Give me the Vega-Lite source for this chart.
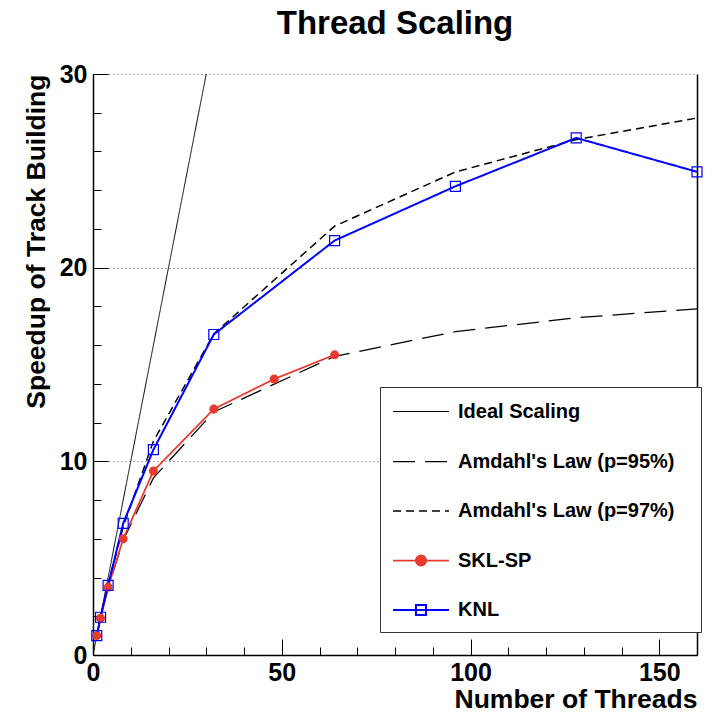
{
  "$schema": "https://vega.github.io/schema/vega-lite/v6.json",
  "width": 604,
  "height": 581,
  "autosize": "none",
  "padding": {"left": 93, "top": 74, "right": 23, "bottom": 59},
  "background": "white",
  "config": {"font": "Liberation Sans", "view": {"stroke": null}, "axis": {"labelOverlap": false, "labelFlush": false, "labelBound": false}},
  "title": {"text": "Thread Scaling", "fontSize": 33, "fontWeight": "bold", "font": "Liberation Sans", "anchor": "middle", "frame": "group", "baseline": "alphabetic", "offset": -5, "color": "black"},
  "data": {"values": [
    {"series": "Ideal Scaling", "threads": 0, "speedup": 0},
    {"series": "Ideal Scaling", "threads": 30, "speedup": 30},
    {"series": "Amdahl's Law (p=95%)", "threads": 1, "speedup": 1},
    {"series": "Amdahl's Law (p=95%)", "threads": 2, "speedup": 1.905},
    {"series": "Amdahl's Law (p=95%)", "threads": 4, "speedup": 3.478},
    {"series": "Amdahl's Law (p=95%)", "threads": 8, "speedup": 5.926},
    {"series": "Amdahl's Law (p=95%)", "threads": 16, "speedup": 9.143},
    {"series": "Amdahl's Law (p=95%)", "threads": 32, "speedup": 12.549},
    {"series": "Amdahl's Law (p=95%)", "threads": 64, "speedup": 15.421},
    {"series": "Amdahl's Law (p=95%)", "threads": 96, "speedup": 16.696},
    {"series": "Amdahl's Law (p=95%)", "threads": 128, "speedup": 17.415},
    {"series": "Amdahl's Law (p=95%)", "threads": 160, "speedup": 17.877},
    {"series": "Amdahl's Law (p=97%)", "threads": 1, "speedup": 1},
    {"series": "Amdahl's Law (p=97%)", "threads": 2, "speedup": 1.942},
    {"series": "Amdahl's Law (p=97%)", "threads": 4, "speedup": 3.67},
    {"series": "Amdahl's Law (p=97%)", "threads": 8, "speedup": 6.612},
    {"series": "Amdahl's Law (p=97%)", "threads": 16, "speedup": 11.034},
    {"series": "Amdahl's Law (p=97%)", "threads": 32, "speedup": 16.58},
    {"series": "Amdahl's Law (p=97%)", "threads": 64, "speedup": 22.145},
    {"series": "Amdahl's Law (p=97%)", "threads": 96, "speedup": 24.942},
    {"series": "Amdahl's Law (p=97%)", "threads": 128, "speedup": 26.613},
    {"series": "Amdahl's Law (p=97%)", "threads": 160, "speedup": 27.726},
    {"series": "SKL-SP", "threads": 1, "speedup": 1.0},
    {"series": "SKL-SP", "threads": 2, "speedup": 1.9},
    {"series": "SKL-SP", "threads": 4, "speedup": 3.5},
    {"series": "SKL-SP", "threads": 8, "speedup": 6.0},
    {"series": "SKL-SP", "threads": 16, "speedup": 9.5},
    {"series": "SKL-SP", "threads": 32, "speedup": 12.7},
    {"series": "SKL-SP", "threads": 48, "speedup": 14.25},
    {"series": "SKL-SP", "threads": 64, "speedup": 15.5},
    {"series": "KNL", "threads": 1, "speedup": 1.0},
    {"series": "KNL", "threads": 2, "speedup": 1.95},
    {"series": "KNL", "threads": 4, "speedup": 3.6},
    {"series": "KNL", "threads": 8, "speedup": 6.8},
    {"series": "KNL", "threads": 16, "speedup": 10.6},
    {"series": "KNL", "threads": 32, "speedup": 16.55},
    {"series": "KNL", "threads": 64, "speedup": 21.4},
    {"series": "KNL", "threads": 96, "speedup": 24.2},
    {"series": "KNL", "threads": 128, "speedup": 26.7},
    {"series": "KNL", "threads": 160, "speedup": 24.95}
  ]},
  "layer": [
    {
      "mark": {"type": "line", "clip": true},
      "encoding": {
        "x": {"field": "threads", "type": "quantitative",
          "scale": {"domain": [0, 160], "nice": false},
          "axis": {
            "values": [0, 10, 20, 30, 40, 50, 60, 70, 80, 90, 100, 110, 120, 130, 140, 150, 160],
            "labelExpr": "datum.value % 50 === 0 ? datum.label : ''",
            "tickSize": {"condition": {"test": "datum.value % 50 === 0", "value": -16}, "value": -8},
            "tickColor": "black", "tickWidth": 1,
            "domainColor": "black", "domainWidth": 1.5,
            "grid": false,
            "labelFont": "Liberation Sans", "labelFontWeight": "bold", "labelFontSize": 25, "labelColor": "black",
            "labelPadding": 21, "labelFlush": false, "labelOverlap": false, "labelBound": false,
            "title": "Number of Threads",
            "titleFont": "Liberation Sans", "titleFontWeight": "bold", "titleFontSize": 26.5, "titleColor": "black",
            "titleAnchor": "end", "titleAlign": "right", "titleBaseline": "alphabetic", "titleX": 604, "titleY": 52
          }
        },
        "y": {"field": "speedup", "type": "quantitative",
          "scale": {"domain": [0, 30], "nice": false},
          "axis": {
            "orient": "left",
            "values": [0, 2, 4, 6, 8, 10, 12, 14, 16, 18, 20, 22, 24, 26, 28, 30],
            "labelExpr": "datum.value % 10 === 0 ? datum.label : ''",
            "tickSize": {"condition": {"test": "datum.value % 10 === 0", "value": -15}, "value": -8},
            "tickColor": "black", "tickWidth": 1,
            "domainColor": "black", "domainWidth": 1.5,
            "grid": true, "gridColor": "#555555", "gridDash": [1, 3], "gridWidth": 1,
            "gridOpacity": {"condition": {"test": "datum.value % 10 === 0 && datum.value > 0", "value": 1}, "value": 0},
            "labelFont": "Liberation Sans", "labelFontWeight": "bold", "labelFontSize": 25, "labelColor": "black",
            "labelPadding": 21, "labelFlush": false, "labelOverlap": false, "labelBound": false,
            "title": "Speedup of Track Building",
            "titleFont": "Liberation Sans", "titleFontWeight": "bold", "titleFontSize": 26.5, "titleColor": "black",
            "titleAngle": -90, "titleAnchor": "end", "titleAlign": "right", "titleBaseline": "middle", "titleX": -57, "titleY": 0
          }
        },
        "color": {"field": "series", "type": "nominal",
          "scale": {"domain": ["Ideal Scaling", "Amdahl's Law (p=95%)", "Amdahl's Law (p=97%)", "SKL-SP", "KNL"],
                    "range": ["#000000", "#000000", "#000000", "#ea3a2e", "#0000ff"]},
          "legend": {
            "title": null, "orient": "none", "legendX": 287, "legendY": 313,
            "strokeColor": "#333333", "fillColor": "white", "padding": 12, "cornerRadius": 0,
            "labelFont": "Liberation Sans", "labelFontWeight": "bold", "labelFontSize": 20, "labelColor": "black",
            "labelOffset": 24, "labelLimit": 0,
            "symbolType": "stroke", "symbolSize": 576, "symbolStrokeWidth": 2, "symbolOffset": 16,
            "rowPadding": 26.5,
            "encode": {"symbols": {"update": {
              "shape": {"signal": "datum.value === 'SKL-SP' ? 'M-2.33,0H2.33M0.42,0A0.42,0.42 0 1 1 -0.42,0A0.42,0.42 0 1 1 0.42,0ZM22,0' : datum.value === 'KNL' ? 'M-2.33,0H2.33M-0.42,-0.42H0.42V0.42H-0.42ZM22,0' : 'M-2.33,0H2.33M22,0'"},
              "fill": {"signal": "datum.value === 'SKL-SP' ? '#ea3a2e' : 'transparent'"},
              "strokeWidth": {"signal": "datum.value === 'Ideal Scaling' ? 1 : (datum.value === 'KNL' ? 1.5 : 2)"}
            }}}
          }
        },
        "strokeDash": {"field": "series", "type": "nominal",
          "scale": {"domain": ["Ideal Scaling", "Amdahl's Law (p=95%)", "Amdahl's Law (p=97%)", "SKL-SP", "KNL"],
                    "range": [[1, 0], [22, 10], [8, 5], [1, 0], [1, 0]]}
        },
        "strokeWidth": {"field": "series", "type": "nominal",
          "scale": {"domain": ["Ideal Scaling", "Amdahl's Law (p=95%)", "Amdahl's Law (p=97%)", "SKL-SP", "KNL"],
                    "range": [1, 2, 2, 2, 2]},
          "legend": null
        }
      }
    },
    {
      "transform": [{"filter": "datum.series === 'SKL-SP'"}],
      "mark": {"type": "point", "shape": "circle", "filled": true, "size": 80, "color": "#ea3a2e", "opacity": 1},
      "encoding": {
        "x": {"field": "threads", "type": "quantitative",
          "axis": {
            "values": [0, 10, 20, 30, 40, 50, 60, 70, 80, 90, 100, 110, 120, 130, 140, 150, 160],
            "labelExpr": "datum.value % 50 === 0 ? datum.label : ''",
            "tickSize": {"condition": {"test": "datum.value % 50 === 0", "value": -16}, "value": -8},
            "tickColor": "black", "tickWidth": 1,
            "domainColor": "black", "domainWidth": 1.5,
            "grid": false,
            "labelFont": "Liberation Sans", "labelFontWeight": "bold", "labelFontSize": 25, "labelColor": "black",
            "labelPadding": 21, "labelFlush": false, "labelOverlap": false, "labelBound": false,
            "title": "Number of Threads",
            "titleFont": "Liberation Sans", "titleFontWeight": "bold", "titleFontSize": 26.5, "titleColor": "black",
            "titleAnchor": "end", "titleAlign": "right", "titleBaseline": "alphabetic", "titleX": 604, "titleY": 52
          }
        },
        "y": {"field": "speedup", "type": "quantitative",
          "axis": {"orient": "right", "labels": false, "ticks": false, "grid": false, "title": null, "domainColor": "black", "domainWidth": 1.5}
        }
      }
    },
    {
      "transform": [{"filter": "datum.series === 'KNL'"}],
      "mark": {"type": "point", "shape": "square", "filled": false, "size": 100, "strokeWidth": 1.2, "color": "#0000ff", "opacity": 1},
      "encoding": {
        "x": {"field": "threads", "type": "quantitative",
          "axis": {
            "values": [0, 10, 20, 30, 40, 50, 60, 70, 80, 90, 100, 110, 120, 130, 140, 150, 160],
            "labelExpr": "datum.value % 50 === 0 ? datum.label : ''",
            "tickSize": {"condition": {"test": "datum.value % 50 === 0", "value": -16}, "value": -8},
            "tickColor": "black", "tickWidth": 1,
            "domainColor": "black", "domainWidth": 1.5,
            "grid": false,
            "labelFont": "Liberation Sans", "labelFontWeight": "bold", "labelFontSize": 25, "labelColor": "black",
            "labelPadding": 21, "labelFlush": false, "labelOverlap": false, "labelBound": false,
            "title": "Number of Threads",
            "titleFont": "Liberation Sans", "titleFontWeight": "bold", "titleFontSize": 26.5, "titleColor": "black",
            "titleAnchor": "end", "titleAlign": "right", "titleBaseline": "alphabetic", "titleX": 604, "titleY": 52
          }
        },
        "y": {"field": "speedup", "type": "quantitative", "axis": null}
      }
    }
  ],
  "resolve": {"axis": {"y": "independent"}}
}
